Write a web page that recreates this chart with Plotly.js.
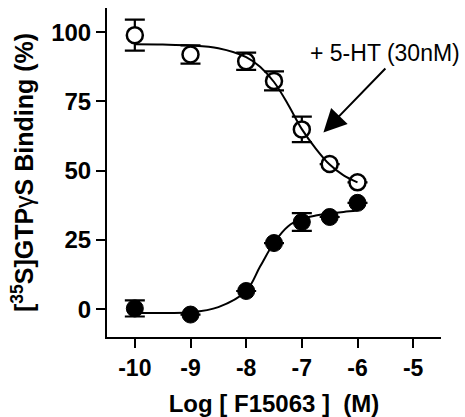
<!DOCTYPE html>
<html>
<head>
<meta charset="utf-8">
<script src="https://cdn.plot.ly/plotly-3.0.1.min.js"></script>
<style>html,body{margin:0;padding:0;background:#fff;}#chart{width:465px;height:417px;}</style>
</head>
<body>
<div id="chart"></div>
<script>
// Measured data (log molar concentration of F15063)
const logConc = [-10, -9, -8, -7.5, -7, -6.5, -6];
const with5HT = [98.9, 91.9, 89.5, 82.4, 64.9, 52.4, 45.8];
const with5HTErr = [5.6, 3.3, 3.1, 3.4, 4.6, 0, 0];
const alone = [0.3, -1.9, 6.6, 23.9, 31.5, 33.3, 38.4];
const aloneErr = [2.9, 0, 0, 0, 3.2, 0, 0];

// Fitted curves
const fitX = [-10, -9.5, -9, -8.5, -8, -7.75, -7.5, -7.25, -7, -6.75, -6.5, -6.25, -6];
const fitWith5HT = [95.6, 95.5, 95.2, 94.2, 91, 87.5, 82, 74, 65, 58, 52.2, 48.3, 45.8];
const fitAlone = [-1.3, -1.3, -1.1, 0.8, 6.6, 15.4, 24, 29.9, 32.6, 33.8, 34.5, 35.1, 35.6];

const xTicks = [-10, -9, -8, -7, -6, -5];
const yTicks = [0, 25, 50, 75, 100];

const FONT = '"Liberation Sans", Arial, Helvetica, sans-serif';

const traces = [
  {
    x: logConc, y: with5HT, type: 'scatter', mode: 'markers',
    marker: {symbol: 'circle', size: 16, color: '#fff', line: {color: '#000', width: 2.5}},
    error_y: {type: 'data', array: with5HTErr, visible: true, color: '#000', thickness: 2.2, width: 10},
    cliponaxis: false, hoverinfo: 'skip'
  },
  {
    x: logConc, y: alone, type: 'scatter', mode: 'markers',
    marker: {symbol: 'circle', size: 17, color: '#000', line: {color: '#000', width: 1}},
    error_y: {type: 'data', array: aloneErr, visible: true, color: '#000', thickness: 2.2, width: 10},
    cliponaxis: false, hoverinfo: 'skip'
  },
  {
    x: fitX, y: fitWith5HT, type: 'scatter', mode: 'lines',
    line: {color: '#000', width: 2, shape: 'spline', smoothing: 1}, hoverinfo: 'skip'
  },
  {
    x: fitX, y: fitAlone, type: 'scatter', mode: 'lines',
    line: {color: '#000', width: 2, shape: 'spline', smoothing: 1}, hoverinfo: 'skip'
  }
];

const layout = {
  width: 465, height: 417,
  margin: {l: 107, r: 24, t: 8, b: 80, pad: 0},
  paper_bgcolor: '#fff', plot_bgcolor: '#fff',
  showlegend: false,
  font: {family: FONT, color: '#000'},
  xaxis: {
    range: [-10.5, -4.5], tickvals: xTicks, ticktext: xTicks.map(String),
    showgrid: false, zeroline: false, showline: true, linecolor: '#000', linewidth: 2,
    ticks: 'outside', ticklen: 9, tickwidth: 2, tickcolor: '#000',
    tickfont: {family: FONT, size: 23, weight: 'bold', color: '#000'},
    title: {text: 'Log [ F15063 ]\u00a0\u00a0(M)', font: {family: FONT, size: 24, weight: 'bold', color: '#000'}, standoff: 16}
  },
  yaxis: {
    range: [-10, 108.7], tickvals: yTicks, ticktext: yTicks.map(String),
    showgrid: false, zeroline: false, showline: true, linecolor: '#000', linewidth: 2,
    ticks: 'outside', ticklen: 9, tickwidth: 2, tickcolor: '#000',
    tickfont: {family: FONT, size: 24, weight: 'bold', color: '#000'},
    title: {text: '[<sup>35</sup>S]GTP<span style="font-weight:normal">γ</span>S Binding (%)', font: {family: FONT, size: 25, weight: 'bold', color: '#000'}, standoff: 10}
  },
  annotations: [
    {
      x: -5.505, y: 92.5, xref: 'x', yref: 'y', text: '+ 5-HT (30nM)', showarrow: false,
      font: {family: FONT, size: 23, color: '#000'}, xanchor: 'center', yanchor: 'middle'
    },
    {
      x: -6.613, y: 63.8, xref: 'x', yref: 'y', ax: -5.473, ay: 87.4, axref: 'x', ayref: 'y',
      text: '', showarrow: true, arrowhead: 2, arrowsize: 2.3, arrowwidth: 2, arrowcolor: '#000', standoff: 0
    }
  ]
};

Plotly.newPlot('chart', traces, layout, {staticPlot: true, displayModeBar: false});
</script>
</body>
</html>
